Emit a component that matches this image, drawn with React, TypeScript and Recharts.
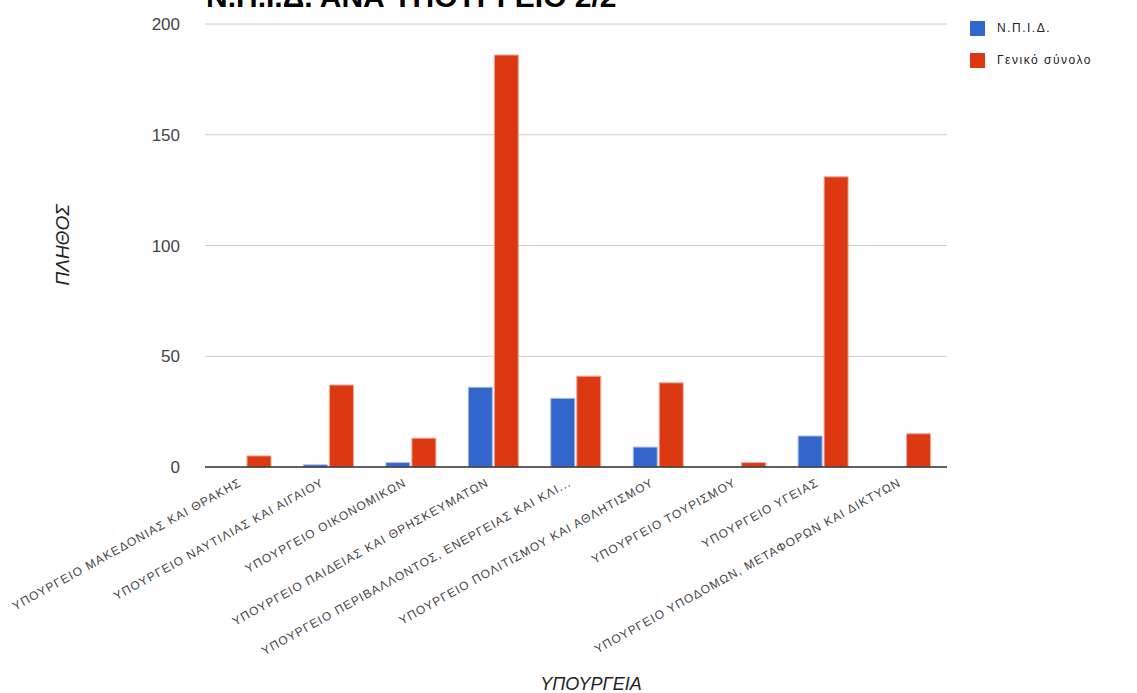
import React from 'react';
import { BarChart, Bar, XAxis, YAxis, CartesianGrid, Legend } from 'recharts';

const categories = [
  'ΥΠΟΥΡΓΕΙΟ ΜΑΚΕΔΟΝΙΑΣ ΚΑΙ ΘΡΑΚΗΣ',
  'ΥΠΟΥΡΓΕΙΟ ΝΑΥΤΙΛΙΑΣ ΚΑΙ ΑΙΓΑΙΟΥ',
  'ΥΠΟΥΡΓΕΙΟ ΟΙΚΟΝΟΜΙΚΩΝ',
  'ΥΠΟΥΡΓΕΙΟ ΠΑΙΔΕΙΑΣ ΚΑΙ ΘΡΗΣΚΕΥΜΑΤΩΝ',
  'ΥΠΟΥΡΓΕΙΟ ΠΕΡΙΒΑΛΛΟΝΤΟΣ, ΕΝΕΡΓΕΙΑΣ ΚΑΙ ΚΛΙ...',
  'ΥΠΟΥΡΓΕΙΟ ΠΟΛΙΤΙΣΜΟΥ ΚΑΙ ΑΘΛΗΤΙΣΜΟΥ',
  'ΥΠΟΥΡΓΕΙΟ ΤΟΥΡΙΣΜΟΥ',
  'ΥΠΟΥΡΓΕΙΟ ΥΓΕΙΑΣ',
  'ΥΠΟΥΡΓΕΙΟ ΥΠΟΔΟΜΩΝ, ΜΕΤΑΦΟΡΩΝ ΚΑΙ ΔΙΚΤΥΩΝ',
];
const npid = [0, 1, 2, 36, 31, 9, 0, 14, 0];
const total = [5, 37, 13, 186, 41, 38, 2, 131, 15];
const yTicks = [0, 50, 100, 150, 200];

const seriesNames = { npid: 'Ν.Π.Ι.Δ.', total: 'Γενικό σύνολο' };
const colors = { npid: '#3366cc', total: '#dc3912' };

const data = categories.map((c, i) => ({ name: c, npid: npid[i], total: total[i] }));

const FONT = '"Liberation Sans", Arial, sans-serif';

const XTick = (props: any) => {
  const { x, y, payload } = props;
  return (
    <g transform={`translate(${x - 4},${y + 10})`}>
      <text
        textAnchor="end"
        transform="rotate(-29)"
        fontSize={12}
        fontFamily={FONT}
        fill="#444"
        letterSpacing={1.1}
        x={0}
        y={0}
      >
        {payload.value}
      </text>
    </g>
  );
};

const LegendContent = () => (
  <div style={{ fontFamily: FONT, fontSize: 12, color: '#222', letterSpacing: 1.5 }}>
    {(['npid', 'total'] as const).map((k) => (
      <div key={k} style={{ display: 'flex', alignItems: 'center', height: 32 }}>
        <span style={{ display: 'inline-block', width: 15, height: 15, background: colors[k], marginRight: 12 }} />
        <span>{seriesNames[k]}</span>
      </div>
    ))}
  </div>
);

export default function App() {
  return (
    <div style={{ position: 'fixed', left: 0, top: 0, width: 1137, height: 693, background: '#fff', overflow: 'hidden' }}>
      <BarChart
        width={1137}
        height={693}
        data={data}
        margin={{ top: 24, right: 23, bottom: 0, left: 0 }}
        barCategoryGap={16}
        barGap={2}
      >
        <CartesianGrid vertical={false} stroke="#cccccc" />
        <XAxis
          dataKey="name"
          interval={0}
          height={226}
          tick={<XTick />}
          tickLine={false}
          axisLine={{ stroke: '#333', strokeWidth: 1.5 }}
        />
        <YAxis
          width={205}
          domain={[0, 200]}
          ticks={yTicks}
          tickLine={false}
          axisLine={false}
          tickSize={0}
          tickMargin={25}
          tick={{ fontSize: 17, fill: '#444', fontFamily: FONT }}
        />
        <Legend
          layout="vertical"
          align="right"
          verticalAlign="top"
          wrapperStyle={{ top: 12, left: 970, width: 167 }}
          content={<LegendContent />}
        />
        <Bar dataKey="npid" name={seriesNames.npid} fill={colors.npid} stroke="#a9bfe8" strokeWidth={1} isAnimationActive={false} />
        <Bar dataKey="total" name={seriesNames.total} fill={colors.total} stroke="#f0a898" strokeWidth={1} isAnimationActive={false} />
      </BarChart>
      <svg width={1137} height={693} style={{ position: 'absolute', left: 0, top: 0, pointerEvents: 'none' }}>
        <text x={206} y={7} fontSize={30} fontWeight="bold" fontFamily={FONT} fill="#000">
          Ν.Π.Ι.Δ. ΑΝΑ ΥΠΟΥΡΓΕΙΟ 2/2
        </text>
        <text
          x={62}
          y={245}
          fontSize={19}
          fontStyle="italic"
          fontFamily={FONT}
          fill="#222"
          textAnchor="middle"
          dominantBaseline="central"
          transform="rotate(-90 62 245)"
        >
          ΠΛΗΘΟΣ
        </text>
        <text x={591} y={690} fontSize={18} fontStyle="italic" fontFamily={FONT} fill="#222" textAnchor="middle">
          ΥΠΟΥΡΓΕΙΑ
        </text>
      </svg>
    </div>
  );
}
